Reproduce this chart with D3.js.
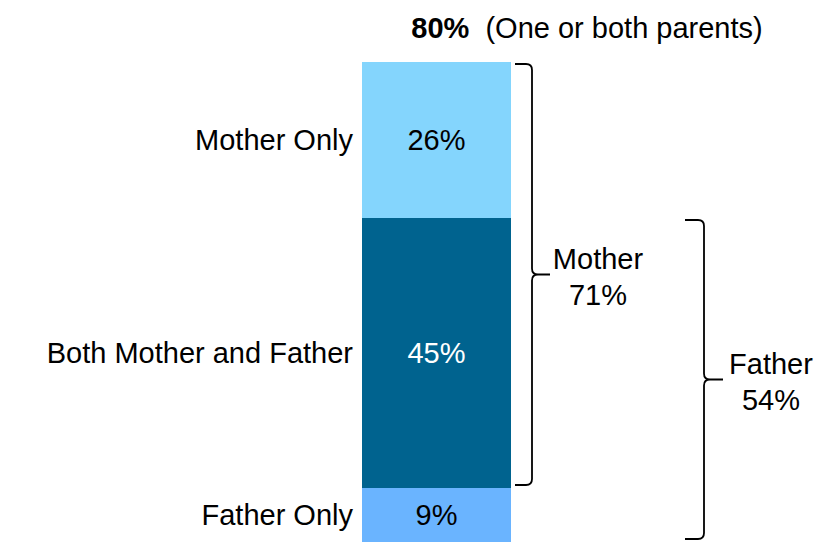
<!DOCTYPE html>
<html>
<head>
<meta charset="utf-8">
<script src="https://cdn.jsdelivr.net/npm/d3@7"></script>
<style>
  body { margin: 0; background: #fff; }
  text { font-family: "Liberation Sans", Arial, sans-serif; }
</style>
</head>
<body>
<div id="chart"></div>
<script>
// 数据
const categories = ['Mother Only', 'Both Mother and Father', 'Father Only'];
const values = [26, 45, 9];
const colors = ['#84D5FD', '#00638F', '#6AB4FF'];
const labelColors = ['#000', '#fff', '#000'];
const totalLabel = '80%';
const totalNote = '(One or both parents)';
const braceNames = ['Mother', 'Father'];
const braceValues = ['71%', '54%'];
const braceRanges = [[0, 1], [1, 2]]; // 段索引

const W = 821, H = 543;
const svg = d3.select('#chart').append('svg')
    .attr('width', W).attr('height', H);

// 比例尺
const total = d3.sum(values);
const y = d3.scaleLinear().domain([0, total]).range([542, 62]);
const x = d3.scaleBand().domain(['bar']).range([362, 511]).padding(0);

// 堆叠（Mother Only 在顶部）
let acc = 0;
const segs = values.map((v, i) => {
    const s = { name: categories[i], value: v, y0: acc, y1: acc + v, i };
    acc += v;
    return s;
}).map(s => ({ ...s, y0: total - s.y1, y1: total - s.y0 }));

svg.selectAll('.bar').data(segs).enter().append('rect')
    .attr('class', 'bar')
    .attr('x', x('bar'))
    .attr('width', x.bandwidth())
    .attr('y', d => y(d.y1))
    .attr('height', d => y(d.y0) - y(d.y1))
    .attr('fill', d => colors[d.i]);

// 段内数值
svg.selectAll('.val').data(segs).enter().append('text')
    .attr('x', x('bar') + x.bandwidth() / 2)
    .attr('y', d => (y(d.y0) + y(d.y1)) / 2)
    .attr('dy', '0.36em')
    .attr('text-anchor', 'middle')
    .attr('font-size', 29)
    .attr('fill', d => labelColors[d.i])
    .text(d => d.value + '%');

// 左侧类别
svg.selectAll('.cat').data(segs).enter().append('text')
    .attr('x', 353)
    .attr('y', d => (y(d.y0) + y(d.y1)) / 2)
    .attr('dy', '0.36em')
    .attr('text-anchor', 'end')
    .attr('font-size', 29)
    .attr('fill', '#000')
    .text(d => d.name);

// 标题
const title = svg.append('text')
    .attr('x', 587).attr('y', 38)
    .attr('text-anchor', 'middle')
    .attr('font-size', 29)
    .attr('fill', '#000');
title.append('tspan').attr('font-weight', 'bold').text(totalLabel);
title.append('tspan').text('\u00a0\u00a0' + totalNote);

// 大括号
function bracePath(x0, xv, xt, y0, y1) {
    const r = 6, ym = (y0 + y1) / 2;
    return `M${x0},${y0} H${xv - r} Q${xv},${y0} ${xv},${y0 + r} V${ym - r}` +
        ` Q${xv},${ym} ${xv + r},${ym} H${xt}` +
        ` M${xv + r},${ym} Q${xv},${ym} ${xv},${ym + r} V${y1 - r}` +
        ` Q${xv},${y1} ${xv - r},${y1} H${x0}`;
}

const braceX = [[515, 532, 550], [685, 704, 723]];
braceRanges.forEach((rg, k) => {
    const top = y(segs[rg[0]].y1) + 2;
    const bot = y(segs[rg[1]].y0) - 3;
    const [x0, xv, xt] = braceX[k];
    svg.append('path')
        .attr('d', bracePath(x0, xv, xt, top, bot))
        .attr('fill', 'none')
        .attr('stroke', '#000')
        .attr('stroke-width', 1.8);
    const ym = (top + bot) / 2;
    const cx = xt + 48;
    svg.append('text')
        .attr('x', cx).attr('y', ym - 16)
        .attr('dy', '0.36em')
        .attr('text-anchor', 'middle')
        .attr('font-size', 29)
        .text(braceNames[k]);
    svg.append('text')
        .attr('x', cx).attr('y', ym + 20)
        .attr('dy', '0.36em')
        .attr('text-anchor', 'middle')
        .attr('font-size', 29)
        .text(braceValues[k]);
});
</script>
</body>
</html>
